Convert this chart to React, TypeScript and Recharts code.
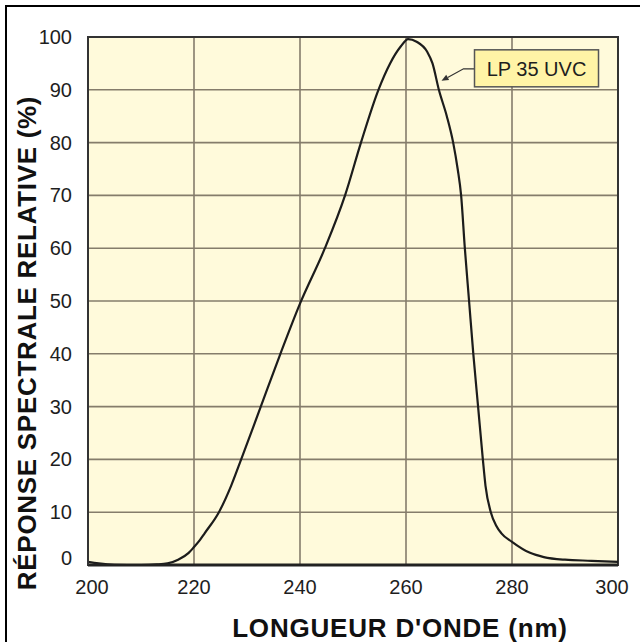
import React from "react";
import {
  LineChart,
  Line,
  XAxis,
  YAxis,
  CartesianGrid,
  ReferenceDot,
  ReferenceArea,
} from "recharts";

const wavelengths = [
  200, 202, 205, 210, 213, 215, 217, 219, 220, 221.1, 222, 224.7, 227, 228.9,
  232.6, 236.3, 240, 244.7, 248.5, 251.5, 254.8, 257, 259, 260.4, 262, 264,
  265, 266.2, 267.7, 268.9, 269.75, 270.4, 271.1, 271.9, 272.7, 273.6, 274.5,
  275, 276, 277, 278, 280, 283.4, 286, 290, 295, 300,
];
const response = [
  0.6, 0.3, 0.05, 0, 0.1, 0.3, 1.0, 2.3, 3.4, 4.7, 6, 10, 15, 20, 30, 40, 49.5,
  60, 70, 80, 90, 95, 98.2, 99.6, 99.1, 97.2, 95, 90, 85, 80, 75, 70, 60, 50,
  40, 30, 20, 15, 10, 7.5, 6, 4.4, 2.3, 1.5, 1.0, 0.8, 0.6,
];
const xTicks = [200, 220, 240, 260, 280, 300];
const yTicks = [0, 10, 20, 30, 40, 50, 60, 70, 80, 90, 100];
const seriesName = "LP 35 UVC";
const annotationPoint = { x: 266.7, y: 91.7 };
const xTitle = "LONGUEUR D'ONDE (nm)";
const yTitle = "RÉPONSE SPECTRALE RELATIVE (%)";

const data = wavelengths.map((w, i) => ({ w, r: response[i] }));

const tickFont = "'Liberation Sans', Arial, sans-serif";
const titleFont = "'Liberation Sans', Arial, sans-serif";

const YTick = (props: any) => {
  const { x, y, payload } = props;
  const v = payload.value;
  return (
    <text
      x={x}
      y={y + (v === 0 ? -7 : 0)}
      textAnchor="end"
      dominantBaseline="central"
      fontFamily={tickFont}
      fontSize={20}
      fill="#1e1e1e"
    >
      {v}
    </text>
  );
};

const XTick = (props: any) => {
  const { x, y, payload } = props;
  const v = payload.value;
  const shift = v === 200 ? 4 : v === 300 ? -6 : 0;
  return (
    <text
      x={x + shift}
      y={y}
      dy="0.71em"
      textAnchor="middle"
      fontFamily={tickFont}
      fontSize={20}
      fill="#1e1e1e"
    >
      {v}
    </text>
  );
};

const AnnotationShape = (props: any) => {
  const { cx, cy } = props;
  const tipX = cx;
  const tipY = cy;
  const cornerX = cx + 22;
  const cornerY = cy - 12;
  const boxX = cx + 33;
  const boxY = cy - 31;
  const dx = cornerX - tipX;
  const dy = cornerY - tipY;
  const len = Math.sqrt(dx * dx + dy * dy);
  const ux = dx / len;
  const uy = dy / len;
  const hl = 7;
  const hw = 3;
  const bx = tipX + ux * hl;
  const by = tipY + uy * hl;
  const p1 = `${tipX},${tipY} ${bx - uy * hw},${by + ux * hw} ${bx + uy * hw},${by - ux * hw}`;
  return (
    <g>
      <polyline
        points={`${bx},${by} ${cornerX},${cornerY} ${boxX},${cornerY}`}
        fill="none"
        stroke="#333"
        strokeWidth={1.2}
      />
      <polygon points={p1} fill="#333" />
      <rect
        x={boxX}
        y={boxY}
        width={124}
        height={37}
        fill="#FFF4A6"
        stroke="#555"
        strokeWidth={1.5}
      />
      <text
        x={boxX + 62}
        y={boxY + 19}
        textAnchor="middle"
        dominantBaseline="central"
        fontFamily={tickFont}
        fontSize={20}
        fill="#1e1e1e"
      >
        {seriesName}
      </text>
    </g>
  );
};

const XTitle = (props: any) => {
  const vb = props.viewBox;
  return (
    <text
      x={vb.x + vb.width / 2 + 47}
      y={vb.y + 72}
      textAnchor="middle"
      fontFamily={titleFont}
      fontWeight="bold"
      fontSize={26}
      letterSpacing={0.8}
      fill="#111"
    >
      {xTitle}
    </text>
  );
};

const YTitle = (props: any) => {
  const vb = props.viewBox;
  const cx = vb.x + 36;
  const cy = vb.y + vb.height / 2 + 42;
  return (
    <text
      x={cx}
      y={cy}
      transform={`rotate(-90 ${cx} ${cy})`}
      textAnchor="middle"
      fontFamily={titleFont}
      fontWeight="bold"
      fontSize={26}
      letterSpacing={0.7}
      fill="#111"
    >
      {yTitle}
    </text>
  );
};

export default function App() {
  return (
    <div
      style={{
        position: "absolute",
        left: 0,
        top: 0,
        width: 640,
        height: 642,
        background: "#fff",
        overflow: "hidden",
      }}
    >
      <div
        style={{
          position: "absolute",
          left: 5,
          top: 5,
          width: 700,
          height: 700,
          borderTop: "2px solid #000",
          borderLeft: "2px solid #000",
        }}
      />
      <div style={{ position: "absolute", left: 0, top: 0 }}>
        <LineChart
          width={640}
          height={642}
          data={data}
          margin={{ top: 37, right: 22, bottom: 0, left: 0 }}
        >
          <CartesianGrid
            fill="#FFFADB"
            stroke="#857c6b"
            strokeWidth={1.6}
            horizontalValues={yTicks}
            verticalValues={xTicks}
          />
          <XAxis
            dataKey="w"
            type="number"
            domain={[200, 300]}
            ticks={xTicks}
            height={77}
            tickSize={0}
            tickMargin={15}
            axisLine={{ stroke: "#222", strokeWidth: 3 }}
            tick={<XTick />}
            label={<XTitle />}
            allowDataOverflow
          />
          <YAxis
            type="number"
            domain={[0, 100]}
            ticks={yTicks}
            width={88}
            tickSize={0}
            tickMargin={16}
            axisLine={{ stroke: "#333", strokeWidth: 2 }}
            tick={<YTick />}
            label={<YTitle />}
            allowDataOverflow
          />
          <ReferenceArea
            x1={200}
            x2={300}
            y1={0}
            y2={100}
            fill="none"
            stroke="#333"
            strokeWidth={2}
            fillOpacity={0}
          />
          <Line
            type="monotone"
            dataKey="r"
            stroke="#1c1c1c"
            strokeWidth={2.2}
            dot={false}
            activeDot={false}
            isAnimationActive={false}
          />
          <ReferenceDot
            x={annotationPoint.x}
            y={annotationPoint.y}
            r={0}
            shape={<AnnotationShape />}
          />
        </LineChart>
      </div>
    </div>
  );
}
